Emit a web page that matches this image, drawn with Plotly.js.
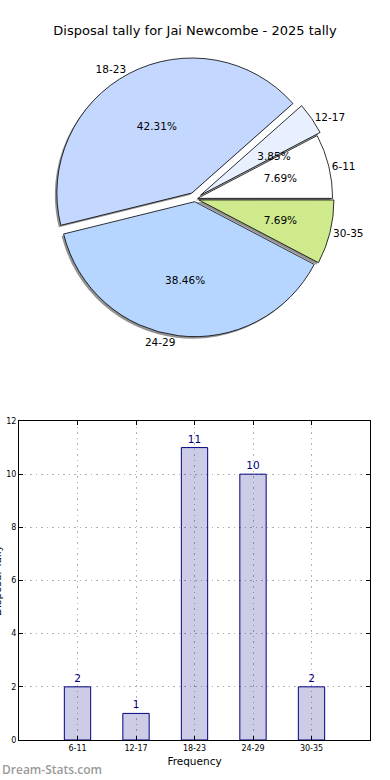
<!DOCTYPE html>
<html>
<head>
<meta charset="utf-8">
<script src="https://cdn.plot.ly/plotly-3.0.1.min.js"></script>
<style>html,body{margin:0;padding:0;background:#fff;}#chart{width:390px;height:780px;}</style>
</head>
<body>
<div id="chart"></div>
<script>
// ---- data ----
var categories = ['6-11', '12-17', '18-23', '24-29', '30-35'];
var tallies = [2, 1, 11, 10, 2];
var sliceColors = ['#ffffff', '#e8f0ff', '#c4d8ff', '#b6d6ff', '#cfea8c'];
var slicePulls = [0.02, 0.05, 0.05, 0.02, 0.03];
var yTicks = [0, 2, 4, 6, 8, 10, 12];

var FONT = 'DejaVu Sans, sans-serif';
var pctTpl = '%{percent:.2%}';
// percent labels in the ring (all but the narrow 12-17 slice)
var ringText = categories.map(function (c, i) { return i === 1 ? '' : pctTpl; });
// percent label for the narrow 12-17 slice
var narrowText = categories.map(function (c, i) { return i === 1 ? pctTpl : ''; });
var clear = categories.map(function () { return 'rgba(0,0,0,0)'; });

var pieCommon = {
  type: 'pie', labels: categories, values: tallies, sort: false,
  direction: 'counterclockwise', rotation: 62.31, hoverinfo: 'skip', showlegend: false
};

var traces = [
  // shadow
  Object.assign({}, pieCommon, {
    domain: {x: [0.13141, 0.85833], y: [0.53682, 0.91993]},
    pull: slicePulls,
    marker: {colors: categories.map(function () { return 'rgba(110,110,110,0.75)'; }), line: {width: 0}},
    textinfo: 'none'
  }),
  // main pie with outside category labels
  Object.assign({}, pieCommon, {
    domain: {x: [0.13654, 0.86346], y: [0.53953, 0.92264]},
    pull: slicePulls,
    marker: {colors: sliceColors, line: {color: '#000000', width: 0.8}},
    textinfo: 'label', textposition: 'outside',
    outsidetextfont: {family: FONT, size: 10.5, color: '#000000'}
  }),
  // percent labels (ring)
  Object.assign({}, pieCommon, {
    domain: {x: [0.22051, 0.77949], y: [0.58378, 0.87838]},
    hole: 0.505,
    marker: {colors: clear, line: {width: 0}},
    texttemplate: ringText, textposition: 'inside', insidetextorientation: 'auto',
    insidetextfont: {family: FONT, size: 10.5, color: '#000000'}
  }),
  // percent label for the narrow slice
  Object.assign({}, pieCommon, {
    domain: {x: [0.31538, 0.68462], y: [0.63378, 0.82838]},
    marker: {colors: clear, line: {width: 0}},
    texttemplate: narrowText, textposition: 'outside',
    outsidetextfont: {family: FONT, size: 10.5, color: '#000000'}
  }),
  // bar chart
  {
    type: 'bar', x: categories, y: tallies, width: 0.45,
    marker: {color: 'rgba(0,0,128,0.2)', line: {color: '#000080', width: 1}},
    text: tallies.map(String), textposition: 'outside', cliponaxis: false,
    textfont: {family: FONT, size: 10.5, color: '#000080'},
    hoverinfo: 'skip', showlegend: false, xaxis: 'x', yaxis: 'y'
  }
];

var layout = {
  width: 390, height: 780,
  margin: {l: 0, r: 0, t: 0, b: 40},
  paper_bgcolor: '#ffffff', plot_bgcolor: '#ffffff',
  font: {family: FONT, color: '#000000'},
  title: {
    text: 'Disposal tally for Jai Newcombe - 2025 tally',
    x: 0.5, xanchor: 'center', y: 0.9615, yanchor: 'middle',
    font: {family: FONT, size: 13, color: '#000000'}
  },
  bargap: 0,
  xaxis: {
    domain: [0.04872, 0.94872], type: 'category', range: [-1, 5],
    showline: true, linecolor: '#000000', linewidth: 1, mirror: 'ticks',
    ticks: 'inside', ticklen: 4, tickcolor: '#000000',
    showgrid: true, gridcolor: '#b0b0b0', griddash: '1.5px,4px', gridwidth: 1,
    tickfont: {family: FONT, size: 8, color: '#000000'},
    title: {text: 'Frequency', font: {family: FONT, size: 10.5, color: '#000000'}, standoff: 6},
    zeroline: false, fixedrange: true
  },
  yaxis: {
    domain: [0, 0.43108], range: [0, 12], tickvals: yTicks,
    showline: true, linecolor: '#000000', linewidth: 1, mirror: 'ticks',
    ticks: 'inside', ticklen: 4, tickcolor: '#000000',
    showgrid: true, gridcolor: '#b0b0b0', griddash: '1.5px,4px', gridwidth: 1,
    tickfont: {family: FONT, size: 8, color: '#000000'},
    zeroline: false, fixedrange: true
  },
  annotations: [
    {
      text: 'Disposal Tally', textangle: -90, xref: 'paper', yref: 'paper',
      x: -0.009, y: 0.2155, xanchor: 'center', yanchor: 'middle', showarrow: false,
      font: {family: FONT, size: 10.5, color: '#000000'}
    },
    {
      text: 'Dream-Stats.com', xref: 'paper', yref: 'paper',
      x: 0, y: -0.0405, xanchor: 'left', yanchor: 'middle', showarrow: false,
      font: {family: 'Open Sans, sans-serif', size: 12, color: '#9a9a9a', weight: 600}
    }
  ]
};

Plotly.newPlot('chart', traces, layout, {staticPlot: true, displayModeBar: false});
</script>
</body>
</html>
